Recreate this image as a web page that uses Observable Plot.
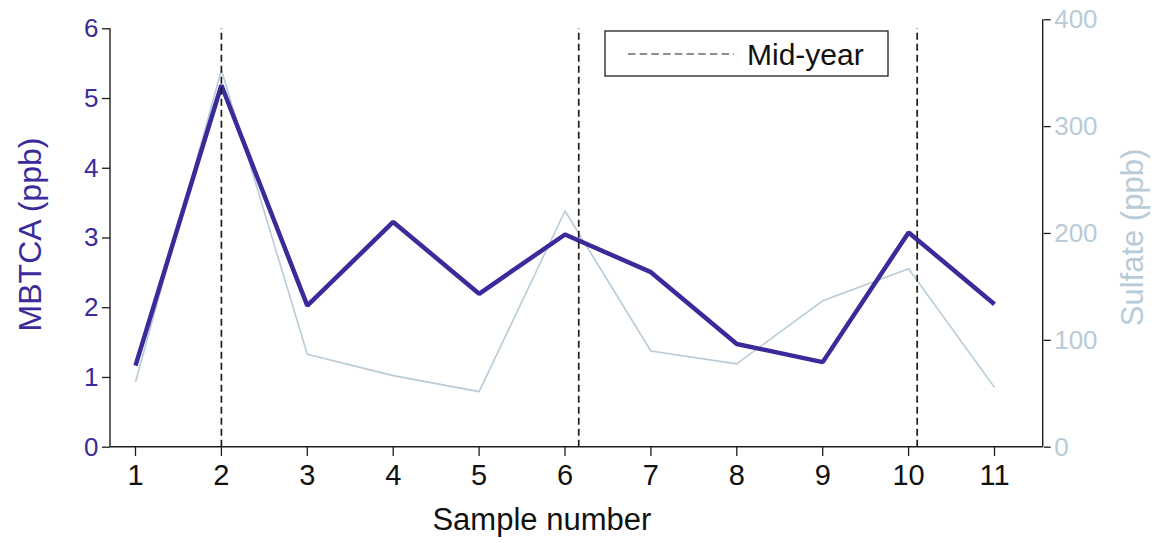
<!DOCTYPE html>
<html>
<head>
<meta charset="utf-8">
<script src="https://cdn.jsdelivr.net/npm/d3@7"></script>
<script src="https://cdn.jsdelivr.net/npm/@observablehq/plot@0.6"></script>
<style>
  html, body { margin: 0; padding: 0; background: #fff; }
  #chart { width: 1162px; height: 543px; }
</style>
</head>
<body>
<div id="chart"></div>
<script>
// ---- data ----
const sampleNumbers = [1, 2, 3, 4, 5, 6, 7, 8, 9, 10, 11];
const mbtcaValues = [1.17, 5.19, 2.03, 3.23, 2.20, 3.05, 2.51, 1.48, 1.22, 3.08, 2.05];
const sulfateValues = [61, 353, 87, 67, 52, 221, 90, 78, 137, 167, 56];
const midYearPositions = [2, 6.16, 10.1];
const mbtcaTicks = [0, 1, 2, 3, 4, 5, 6];
const sulfateTicks = [0, 100, 200, 300, 400];
const legendLabel = "Mid-year";

// ---- styling / layout ----
const purple = "#3a2a9a";
const sulfateColor = "#b8cbd7";
const ink = "#1e1e1e";
const font = "'Liberation Sans', Arial, Helvetica, sans-serif";
// right axis (0..400) spans a slightly taller pixel range than left (0..6)
const sulfateScale = 6.13 / 400;

const rows = sampleNumbers.map((s, i) => ({
  sample: s, mbtca: mbtcaValues[i], sulfate: sulfateValues[i]
}));

function decorations(index, scales, values, dim) {
  const {x, y} = scales;
  const g = d3.create("svg:g");
  const left = dim.marginLeft, right = dim.width - dim.marginRight;
  const y0 = y(0);
  // axis lines
  g.append("line").attr("x1", left).attr("x2", left)
    .attr("y1", y0).attr("y2", y(mbtcaTicks[mbtcaTicks.length - 1]))
    .attr("stroke", ink).attr("stroke-width", 1.4);
  g.append("line").attr("x1", right).attr("x2", right)
    .attr("y1", y0).attr("y2", y(sulfateTicks[sulfateTicks.length - 1] * sulfateScale))
    .attr("stroke", ink).attr("stroke-width", 1.4);
  g.append("line").attr("x1", left).attr("x2", right)
    .attr("y1", y0).attr("y2", y0)
    .attr("stroke", ink).attr("stroke-width", 1.4);
  // legend
  const lg = g.append("g").attr("transform", "translate(605,31)");
  lg.append("rect").attr("x", 0).attr("y", 0).attr("width", 283).attr("height", 45)
    .attr("fill", "#fff").attr("stroke", ink).attr("stroke-width", 1.3);
  lg.append("line").attr("x1", 23).attr("x2", 129).attr("y1", 23).attr("y2", 23)
    .attr("stroke", ink).attr("stroke-width", 1.2).attr("stroke-dasharray", "7.5,4.2");
  lg.append("text").attr("x", 142).attr("y", 23).attr("dy", "0.36em")
    .attr("text-anchor", "start")
    .attr("font-family", font).attr("font-size", 30).attr("fill", "#111")
    .text(legendLabel);
  return g.node();
}

const chart = Plot.plot({
  width: 1162,
  height: 543,
  marginLeft: 110,
  marginRight: 119.3,
  marginTop: 19,
  marginBottom: 96,
  style: {fontFamily: font, background: "#fff", overflow: "visible"},
  x: {domain: [1, 11], range: [135, 994]},
  y: {domain: [0, 6], range: [446.7, 28.3]},
  marks: [
    Plot.axisX({ticks: sampleNumbers, tickSize: 9, tickPadding: 8, fontSize: 29,
      color: "#111", stroke: ink, strokeWidth: 1.3, label: null, tickFormat: d => String(d)}),
    Plot.axisY({anchor: "left", ticks: mbtcaTicks, tickSize: 8, tickPadding: 4, fontSize: 26,
      color: purple, stroke: ink, strokeWidth: 1.3, label: null, tickFormat: d => String(d)}),
    Plot.axisY(sulfateTicks.map(t => t * sulfateScale), {anchor: "right", tickSize: 7, tickPadding: 4,
      fontSize: 26, color: sulfateColor, stroke: ink, strokeWidth: 1.3, label: null,
      tickFormat: d => String(Math.round(d / sulfateScale))}),
    Plot.line(rows, {x: "sample", y: d => d.sulfate * sulfateScale, stroke: sulfateColor,
      strokeWidth: 1.6, strokeLinejoin: "miter", strokeLinecap: "butt"}),
    Plot.line(rows, {x: "sample", y: "mbtca", stroke: purple, strokeWidth: 4.5,
      strokeLinejoin: "miter", strokeLinecap: "butt"}),
    Plot.ruleX(midYearPositions, {y1: mbtcaTicks[0], y2: mbtcaTicks[mbtcaTicks.length - 1],
      stroke: ink, strokeWidth: 1.7, strokeDasharray: "7,4"}),
    Plot.text(["Sample number"], {frameAnchor: "bottom", dx: -35, dy: 73, fontSize: 31,
      fill: "#111", lineAnchor: "middle", textAnchor: "middle"}),
    Plot.text(["MBTCA (ppb)"], {frameAnchor: "left", dx: -80, dy: 1, rotate: -90,
      fontSize: 32, fill: purple, textAnchor: "middle", lineAnchor: "middle"}),
    Plot.text(["Sulfate (ppb)"], {frameAnchor: "right", dx: 90, dy: 4, rotate: -90,
      fontSize: 31, fill: sulfateColor, textAnchor: "middle", lineAnchor: "middle"}),
    decorations
  ]
});
document.getElementById("chart").appendChild(chart);
</script>
</body>
</html>
